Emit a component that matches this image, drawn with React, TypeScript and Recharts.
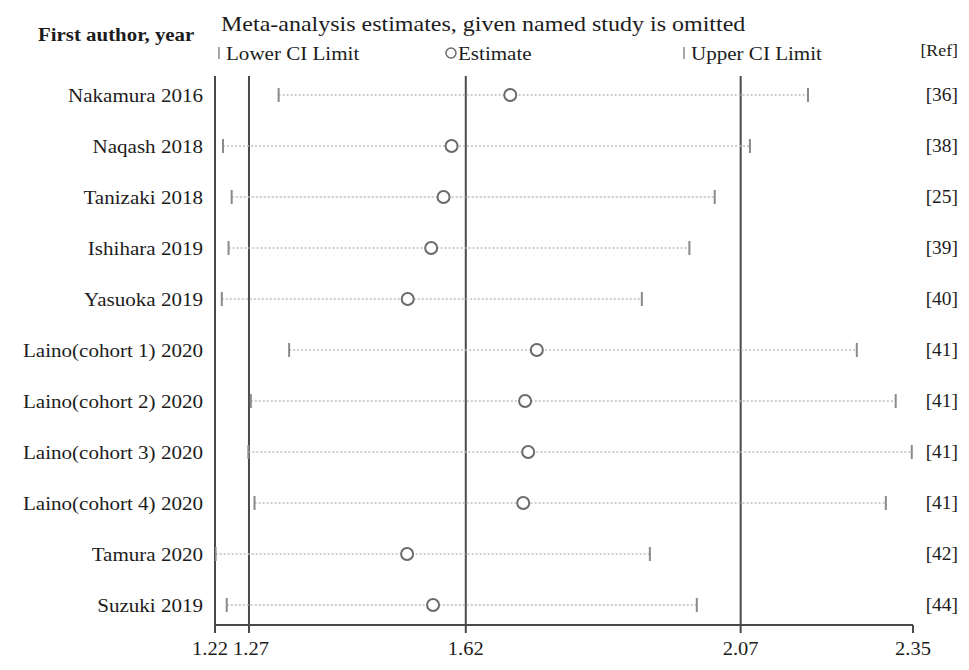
import React from 'react';
import { ScatterChart, Scatter, XAxis, YAxis, ReferenceLine, ErrorBar } from 'recharts';

const studies = [
  'Nakamura 2016',
  'Naqash 2018',
  'Tanizaki 2018',
  'Ishihara 2019',
  'Yasuoka 2019',
  'Laino(cohort 1) 2020',
  'Laino(cohort 2) 2020',
  'Laino(cohort 3) 2020',
  'Laino(cohort 4) 2020',
  'Tamura 2020',
  'Suzuki 2019',
];
const refs = ['[36]', '[38]', '[25]', '[39]', '[40]', '[41]', '[41]', '[41]', '[41]', '[42]', '[44]'];
const lowerCI = [1.323, 1.233, 1.247, 1.242, 1.231, 1.34, 1.278, 1.274, 1.284, 1.221, 1.239];
const estimates = [1.698, 1.603, 1.59, 1.57, 1.532, 1.741, 1.722, 1.727, 1.719, 1.531, 1.573];
const upperCI = [2.18, 2.086, 2.029, 1.988, 1.911, 2.259, 2.322, 2.348, 2.306, 1.924, 2.0];
// pooled lower CI, estimate, upper CI (unrounded); axis shows them to 2 dp
const overallLines = [1.275, 1.626, 2.071];
const xTicks = [1.22, 1.275, 1.626, 2.071, 2.35];
const xTickLabels = ['1.22', '1.27', '1.62', '2.07', '2.35'];
const rowIdx = studies.map((_, i) => i);

const FONT = '"Liberation Serif", "Times New Roman", serif';
const INK = '#1c1c1c';

const estData = studies.map((_, i) => ({
  x: estimates[i],
  y: i,
  err: [estimates[i] - lowerCI[i], upperCI[i] - estimates[i]],
}));
const lowData = studies.map((_, i) => ({ x: lowerCI[i], y: i }));
const upData = studies.map((_, i) => ({ x: upperCI[i], y: i }));

const Txt = ({ x, y, anchor = 'start', size = 19.5, weight = 400, sx = 1.08, children }: any) => (
  <text
    transform={`translate(${x},${y}) scale(${sx},1)`}
    textAnchor={anchor}
    fontFamily={FONT}
    fontSize={size}
    fontWeight={weight}
    fill={INK}
  >
    {children}
  </text>
);

const NameTick = (props: any) => {
  const { x, y, payload } = props;
  return <Txt x={x - 12} y={y + 7} anchor="end">{studies[payload.value]}</Txt>;
};

const RefTick = (props: any) => {
  const { x, y, payload } = props;
  return <Txt x={x + 45} y={y + 6} anchor="end" size={18}>{refs[payload.value]}</Txt>;
};

const XTick = (props: any) => {
  const { x, y, payload } = props;
  const i = xTicks.indexOf(payload.value);
  const shift = i === 0 ? -5 : i === 1 ? 2 : 0;
  return (
    <Txt x={x + shift} y={y + 20} anchor="middle" size={19}>
      {xTickLabels[i]}
    </Txt>
  );
};

const CapShape = (props: any) => {
  const { cx, cy } = props;
  return <line x1={cx} x2={cx} y1={cy - 7} y2={cy + 7} stroke="#8a8a8a" strokeWidth={2} />;
};

const EstShape = (props: any) => {
  const { cx, cy } = props;
  return <circle cx={cx} cy={cy} r={6} fill="#fff" stroke="#6a6a6a" strokeWidth={2} />;
};

export default function App() {
  return (
    <div style={{ position: 'absolute', left: 0, top: 0, width: 969, height: 670, background: '#fff' }}>
      <ScatterChart width={969} height={670} margin={{ top: 76, right: 0, bottom: 0, left: 0 }}>
        <XAxis
          type="number"
          dataKey="x"
          domain={[1.22, 2.35]}
          ticks={xTicks}
          interval={0}
          allowDataOverflow
          height={45}
          axisLine={{ stroke: '#4a4a4a', strokeWidth: 2 }}
          tickLine={{ stroke: '#4a4a4a', strokeWidth: 2 }}
          tickSize={8}
          tick={<XTick />}
        />
        <YAxis
          yAxisId="left"
          type="number"
          dataKey="y"
          domain={[-0.3725, 10.392]}
          reversed
          ticks={rowIdx}
          interval={0}
          allowDataOverflow
          width={215}
          axisLine={{ stroke: '#4a4a4a', strokeWidth: 2 }}
          tickLine={false}
          tickSize={0}
          tickMargin={0}
          tick={<NameTick />}
        />
        <YAxis
          yAxisId="right"
          orientation="right"
          type="number"
          dataKey="y"
          domain={[-0.3725, 10.392]}
          reversed
          ticks={rowIdx}
          interval={0}
          allowDataOverflow
          width={56}
          axisLine={false}
          tickLine={false}
          tickSize={0}
          tickMargin={0}
          tick={<RefTick />}
        />
        {overallLines.map((v) => (
          <ReferenceLine key={v} x={v} yAxisId="left" stroke="#4a4a4a" strokeWidth={2} />
        ))}
        <Scatter yAxisId="left" data={lowData} shape={<CapShape />} isAnimationActive={false} />
        <Scatter yAxisId="left" data={upData} shape={<CapShape />} isAnimationActive={false} />
        <Scatter yAxisId="left" data={estData} shape={<EstShape />} isAnimationActive={false}>
          <ErrorBar
            dataKey="err"
            direction="x"
            width={0}
            stroke="#bdbdbd"
            strokeWidth={1.5}
            strokeDasharray="2 2"
            isAnimationActive={false}
          />
        </Scatter>
      </ScatterChart>

      <svg
        width={969}
        height={670}
        style={{ position: 'absolute', left: 0, top: 0, pointerEvents: 'none' }}
      >
        <Txt x={38} y={41} size={18} weight={700} sx={1.16}>First author, year</Txt>
        <Txt x={221} y={31} size={20} sx={1.2}>Meta-analysis estimates, given named study is omitted</Txt>
        <line x1={219} x2={219} y1={47} y2={59} stroke="#8a8a8a" strokeWidth={1.5} />
        <Txt x={226} y={60} size={19.5}>Lower CI Limit</Txt>
        <circle cx={451} cy={53} r={5} fill="#fff" stroke="#6a6a6a" strokeWidth={1.5} />
        <Txt x={458} y={60} size={19.5}>Estimate</Txt>
        <line x1={684} x2={684} y1={47} y2={59} stroke="#8a8a8a" strokeWidth={1.5} />
        <Txt x={691} y={60} size={19.5}>Upper CI Limit</Txt>
        <Txt x={958} y={56} anchor="end" size={16.5}>[Ref]</Txt>
      </svg>
    </div>
  );
}
